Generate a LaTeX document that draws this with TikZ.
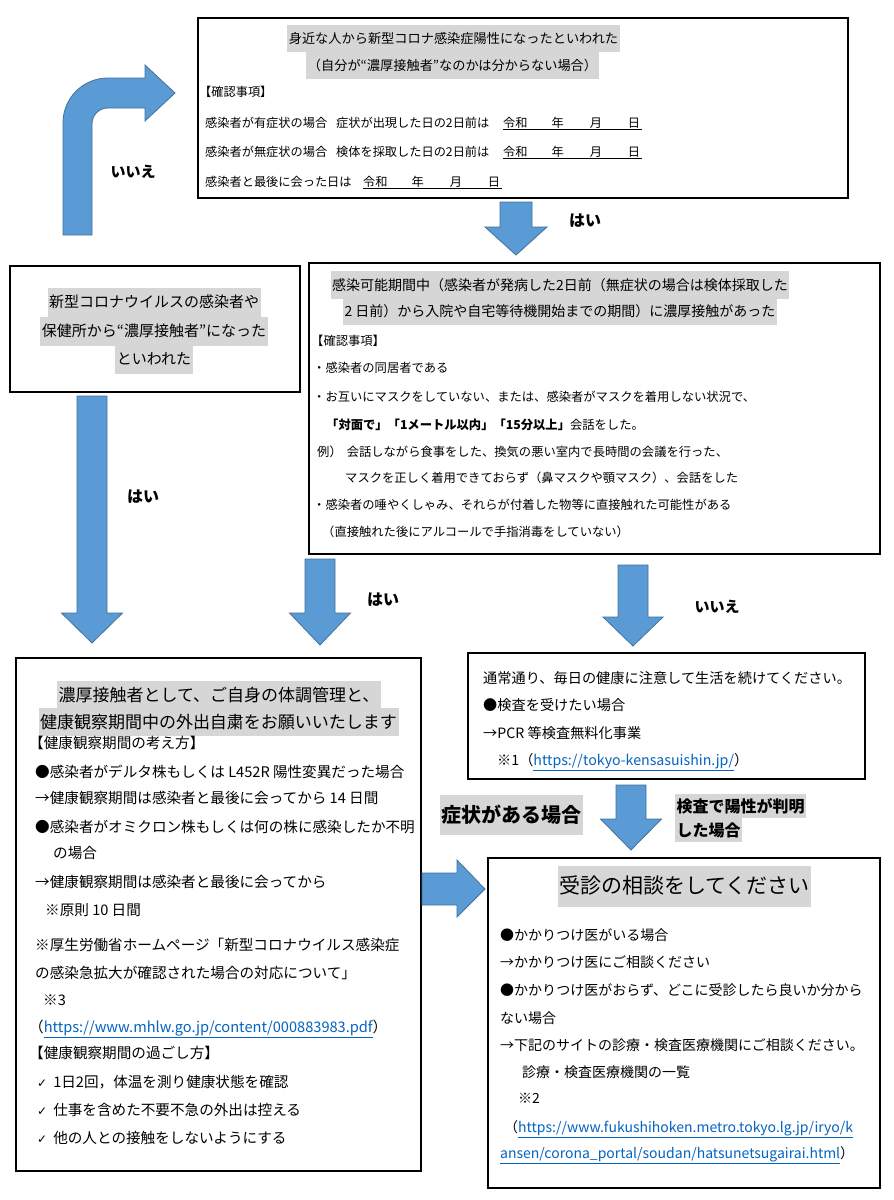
\documentclass[tikz,border=0pt]{standalone}
\usepackage{fontspec}
\setmainfont{Noto Sans CJK JP}
\newfontfamily\symfont{DejaVu Sans}

\definecolor{hlgray}{HTML}{D6D6D6}
\definecolor{arrowblue}{HTML}{5B9BD5}
\definecolor{arrowedge}{HTML}{41719C}
\definecolor{linkblue}{HTML}{0563C1}

\newcommand{\fsz}[1]{\fontsize{#1}{#1}\selectfont}
\newcommand{\weblink}[1]{\textcolor{linkblue}{\underline{#1}}}
% block arrow pointing down: x, top, head start, tip, shaft half, head half
\newcommand{\blockdown}[6]{%
  \draw[blockarrow] (#1-#5,#2) -- (#1+#5,#2) -- (#1+#5,#3) -- (#1+#6,#3)
    -- (#1,#4) -- (#1-#6,#3) -- (#1-#5,#3) -- cycle;}

\tikzset{
  boxframe/.style={draw, line width=2.2pt, anchor=north west, inner sep=0pt},
  ln/.style={anchor=west, inner sep=0pt, font=\fsz{#1},
    text height=.88*#1pt, text depth=.12*#1pt},
  ttl/.style={anchor=center, inner xsep=1.5pt, inner ysep=7pt, fill=hlgray,
    font=\fsz{#1}, text height=.88*#1pt, text depth=.12*#1pt},
  yesno/.style={font=\fsz{#1}\bfseries, inner sep=0pt},
  blockarrow/.style={fill=arrowblue, draw=arrowedge, line width=.8pt},
  dateline/.style={line width=.8pt},
}

\begin{document}
\begin{tikzpicture}[x=1pt, y=-1pt]

  \fill[white] (0,0) rectangle (894,1200);
  \useasboundingbox (0,0) rectangle (894,1200);

  % --- Top box: told by someone close ---
  \node[boxframe, minimum width=650, minimum height=180] (topbox) at (197,17) {};
  \node[ttl=13.2] (toptitleA) at (453.5,38.5) {身近な人から新型コロナ感染症陽性になったといわれた};
  \node[ttl=13.2] (toptitleB) at (452.5,65.5) {（自分が“濃厚接触者”なのかは分からない場合）};
  \node[ln=12.2] (topcheck) at (199,92) {【確認事項】};
  \node[ln=12.2] (toprowA) at (205,123) {感染者が有症状の場合\hspace{9pt}症状が出現した日の2日前は};
  \node[ln=12.2] (topdateA) at (503,123) {令和\hspace{24pt}年\hspace{26pt}月\hspace{26pt}日};
  \node[ln=12.2] (toprowB) at (205,152) {感染者が無症状の場合\hspace{9pt}検体を採取した日の2日前は};
  \node[ln=12.2] (topdateB) at (503,152) {令和\hspace{24pt}年\hspace{26pt}月\hspace{26pt}日};
  \node[ln=12.2] (toprowC) at (205,182) {感染者と最後に会った日は};
  \node[ln=12.2] (topdateC) at (363,182) {令和\hspace{24pt}年\hspace{26pt}月\hspace{26pt}日};
  \draw[dateline] (topdateA.south west) -- ([xshift=2pt]topdateA.south east);
  \draw[dateline] (topdateB.south west) -- ([xshift=2pt]topdateB.south east);
  \draw[dateline] (topdateC.south west) -- ([xshift=2pt]topdateC.south east);

  % --- Left box: told by health centre ---
  \node[boxframe, minimum width=290, minimum height=126] (leftbox) at (9,265) {};
  \node[ttl=15] (leftA) at (154,302) {新型コロナウイルスの感染者や};
  \node[ttl=15] (leftB) at (154,331) {保健所から“濃厚接触者”になった};
  \node[ttl=15] (leftC) at (154,359) {といわれた};

  % --- Middle box: contact during infectious period ---
  \node[boxframe, minimum width=571, minimum height=291] (midbox) at (308,262) {};
  \node[ttl=14] (midtitleA) at (560,285) {感染可能期間中（感染者が発病した2日前（無症状の場合は検体採取した};
  \node[ttl=14] (midtitleB) at (560,311) {2 日前）から入院や自宅等待機開始までの期間）に濃厚接触があった};
  \node[ln=12.3] (midcheck) at (311,341) {【確認事項】};
  \node[ln=12.3] (midA) at (313,368) {・感染者の同居者である};
  \node[ln=12.3] (midB) at (313,397) {・お互いにマスクをしていない、または、感染者がマスクを着用しない状況で、};
  \node[ln=12.3] (midC) at (326,425) {\textbf{「対面で」「1メートル以内」「15分以上」}会話をした。};
  \node[ln=12.3] (midD) at (317,452) {例）\hspace{5pt}会話しながら食事をした、換気の悪い室内で長時間の会議を行った、};
  \node[ln=12.3] (midE) at (345,478) {マスクを正しく着用できておらず（鼻マスクや顎マスク）、会話をした};
  \node[ln=12.3] (midF) at (313,505) {・感染者の唾やくしゃみ、それらが付着した物等に直接触れた可能性がある};
  \node[ln=12.3] (midG) at (322,532) {（直接触れた後にアルコールで手指消毒をしていない）};

  % --- Bottom left box: health observation ---
  \node[boxframe, minimum width=405, minimum height=513] (obsbox) at (15,657) {};
  \node[ttl=17, inner ysep=5.5pt] (obstitleA) at (219,695) {濃厚接触者として、ご自身の体調管理と、};
  \node[ttl=17, inner ysep=5.5pt] (obstitleB) at (218.5,722) {健康観察期間中の外出自粛をお願いいたします};
  \node[ln=14.6] (obsA) at (29,743) {【健康観察期間の考え方】};
  \node[ln=14.6] (obsB) at (35,772) {●感染者がデルタ株もしくは L452R 陽性変異だった場合};
  \node[ln=14.6] (obsC) at (35,798) {→健康観察期間は感染者と最後に会ってから 14 日間};
  \node[ln=14.6] (obsD) at (35,827) {●感染者がオミクロン株もしくは何の株に感染したか不明};
  \node[ln=14.6] (obsE) at (53,853) {の場合};
  \node[ln=14.6] (obsF) at (35,882) {→健康観察期間は感染者と最後に会ってから};
  \node[ln=14.6] (obsG) at (45,910) {※原則 10 日間};
  \node[ln=14.6] (obsH) at (35,945) {※厚生労働省ホームページ「新型コロナウイルス感染症};
  \node[ln=14.6] (obsI) at (35,973) {の感染急拡大が確認された場合の対応について」};
  \node[ln=14.6] (obsJ) at (43,1000) {※3};
  \node[ln=14.6] (obsK) at (29,1027) {（\weblink{https://www.mhlw.go.jp/content/000883983.pdf}）};
  \node[ln=14.6] (obsL) at (29,1053) {【健康観察期間の過ごし方】};
  \node[ln=14.6] (obsM) at (37,1082) {{\symfont\fsz{12}✓}\hspace{6pt}1日2回，体温を測り健康状態を確認};
  \node[ln=14.6] (obsN) at (37,1110) {{\symfont\fsz{12}✓}\hspace{6pt}仕事を含めた不要不急の外出は控える};
  \node[ln=14.6] (obsO) at (37,1138) {{\symfont\fsz{12}✓}\hspace{6pt}他の人との接触をしないようにする};

  % --- Right box: carry on as usual ---
  \node[boxframe, minimum width=397, minimum height=126] (normalbox) at (467,652) {};
  \node[ln=14.2] (normalA) at (483,678) {通常通り、毎日の健康に注意して生活を続けてください。};
  \node[ln=14.2] (normalB) at (483,705) {●検査を受けたい場合};
  \node[ln=14.2] (normalC) at (483,733) {→PCR 等検査無料化事業};
  \node[ln=14.2] (normalD) at (497,760) {※1（\weblink{https://tokyo-kensasuishin.jp/}）};

  % --- Bottom right box: consultation ---
  \node[boxframe, minimum width=392, minimum height=330] (consultbox) at (487,857) {};
  \node[ttl=21, inner ysep=10pt] (consulttitle) at (684.5,886) {受診の相談をしてください};
  \node[ln=14] (consultA) at (500,935) {●かかりつけ医がいる場合};
  \node[ln=14] (consultB) at (500,962) {→かかりつけ医にご相談ください};
  \node[ln=14] (consultC) at (500,990) {●かかりつけ医がおらず、どこに受診したら良いか分から};
  \node[ln=14] (consultD) at (500,1018) {ない場合};
  \node[ln=14] (consultE) at (500,1045) {→下記のサイトの診療・検査医療機関にご相談ください。};
  \node[ln=14] (consultF) at (522,1072) {診療・検査医療機関の一覧};
  \node[ln=14] (consultG) at (518,1098) {※2};
  \node[ln=14] (consultH) at (504,1127) {（\weblink{https://www.fukushihoken.metro.tokyo.lg.jp/iryo/k}};
  \node[ln=14] (consultI) at (500,1153) {\weblink{ansen/corona\_portal/soudan/hatsunetsugairai.html}）};

  % --- Block arrows ---
  % bent arrow: left box back up to top box
  \draw[blockarrow] (63,235) -- (63,123) .. controls (63,98) and (83,78) .. (108,78)
    -- (145,78) -- (145,65) -- (175,93) -- (145,121) -- (145,108) -- (108,108)
    .. controls (99,108) and (92,115) .. (92,124) -- (92,235) -- cycle;
  \blockdown{516}{202}{227}{255}{16}{31}
  \blockdown{92}{396}{613}{643}{15}{30.5}
  \blockdown{320}{559}{613}{645}{15}{30.5}
  \blockdown{633}{565}{617}{646}{15}{30}
  \blockdown{631}{785}{819}{850}{15}{30.5}
  % arrow to the right into consultation box
  \draw[blockarrow] (422,873) -- (457,873) -- (457,860) -- (485,889)
    -- (457,917) -- (457,905) -- (422,905) -- cycle;

  % --- Answer labels ---
  \node[yesno=15] (noA) at (133,172) {いいえ};
  \node[yesno=16] (yesA) at (585,221) {はい};
  \node[yesno=16] (yesB) at (143,497) {はい};
  \node[yesno=16] (yesC) at (383,600) {はい};
  \node[yesno=15] (noB) at (717,607) {いいえ};
  \node[ttl=20, inner ysep=10pt, font=\fsz{20}\bfseries] (symptom) at (511.5,815) {症状がある場合};
  \node[ttl=16, anchor=west, inner ysep=4pt, font=\fsz{16}\bfseries] (positiveA) at (675,806) {検査で陽性が判明};
  \node[ttl=16, anchor=west, inner ysep=4pt, font=\fsz{16}\bfseries] (positiveB) at (675,830) {した場合};

\end{tikzpicture}
\end{document}
